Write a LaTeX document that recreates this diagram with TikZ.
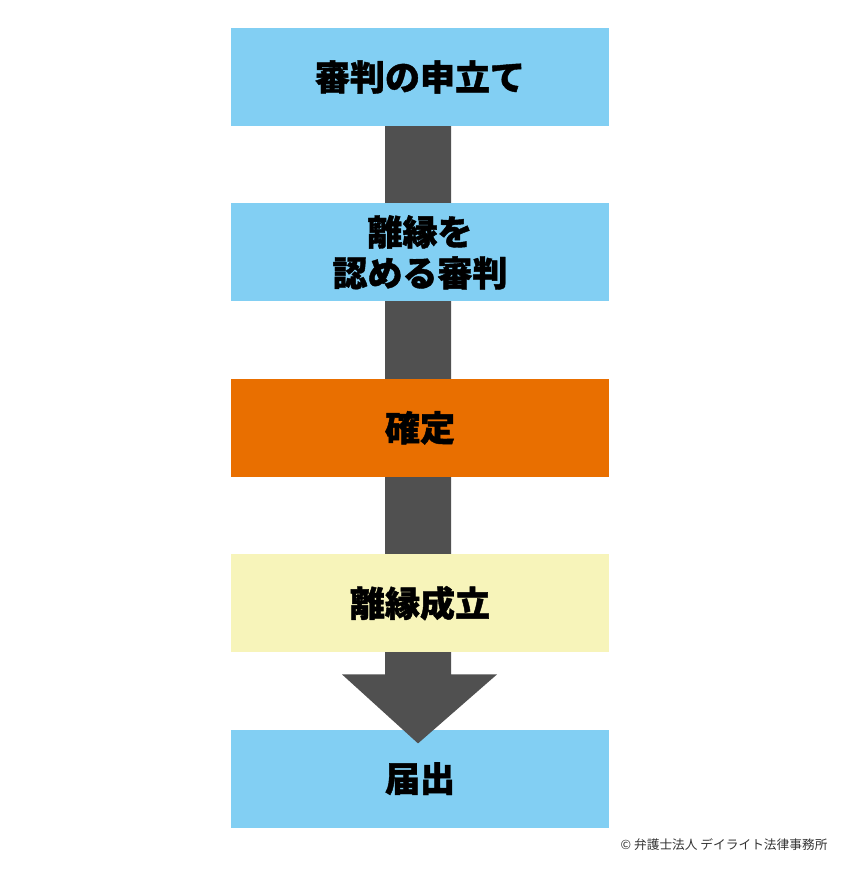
\documentclass[tikz,border=0pt]{standalone}
\usepackage{fontspec}
\newfontfamily\jp{Noto Sans CJK JP}[BoldFeatures={FakeBold=1.2}]
\usetikzlibrary{positioning,calc,backgrounds}
\definecolor{skyblue}{HTML}{82CFF3}
\definecolor{decided}{HTML}{E96F00}
\definecolor{paleyellow}{HTML}{F7F4BA}
\definecolor{arrowgray}{HTML}{505050}
\tikzstyle{stepbox} = [
    minimum width=378pt,
    minimum height=98pt,
    inner sep=0pt,
    align=center,
    font=\jp\bfseries\fontsize{35}{41}\selectfont]
\pgfdeclarelayer{back}
\pgfdeclarelayer{mid}
\pgfsetlayers{back,mid,main}

\begin{document}
\begin{tikzpicture}
        \useasboundingbox (0,0) rectangle (850pt,-870pt);

        \node[stepbox, fill=skyblue] (apply) at (420pt,-77pt) {審判の申立て};
        \node[stepbox, fill=skyblue] (ruling) [below = 77pt of apply] {離縁を\\認める審判};
        \node[stepbox, fill=decided] (final) [below = 77pt of ruling] {確定};
        \node[stepbox, fill=paleyellow] (dissolved) [below = 77pt of final] {離縁成立};
        \begin{pgfonlayer}{back}
            \node[stepbox, fill=skyblue] (notify) [below = 77pt of dissolved] {届出};
        \end{pgfonlayer}

        % the big arrow running behind the boxes
        \begin{pgfonlayer}{mid}
            \fill[arrowgray]
                ($(apply.south)+(-35pt,0)$) -- ($(apply.south)+(31pt,0)$)
                -- ($(dissolved.south)+(31pt,-22pt)$) -- ($(dissolved.south)+(77pt,-22pt)$)
                -- ($(notify.north)+(-2pt,-14pt)$)
                -- ($(dissolved.south)+(-78pt,-22pt)$) -- ($(dissolved.south)+(-35pt,-22pt)$)
                -- cycle;
        \end{pgfonlayer}

        \node[anchor=east, text=black!80, font=\jp\fontsize{12.7}{14}\selectfont]
            (credit) at (831pt,-845pt) {© 弁護士法人 デイライト法律事務所};
    \end{tikzpicture}
\end{document}
